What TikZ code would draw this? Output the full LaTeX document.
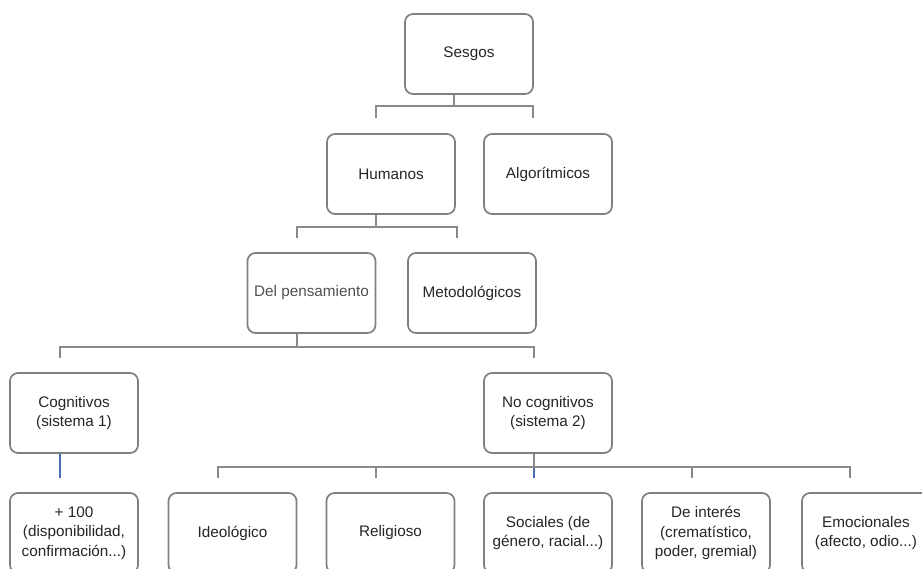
\documentclass[tikz,border=0pt]{standalone}
\usepackage{fontspec}
\setmainfont{Liberation Sans}
\usetikzlibrary{calc}
\definecolor{boxgray}{HTML}{808080}
\definecolor{linegray}{HTML}{8A8A8A}
\definecolor{txt}{HTML}{262626}
\definecolor{blueline}{HTML}{4A6DB5}
\tikzset{
  box/.style={draw=boxgray, line width=1.7pt, rounded corners=8pt, fill=white,
    minimum width=128pt, minimum height=80pt, align=center, text=txt,
    font=\fontsize{15.3}{19.5}\selectfont, inner sep=2pt},
  conn/.style={draw=linegray, line width=2pt},
  blueconn/.style={draw=blueline, line width=1.4pt}
}
\begin{document}
\begin{tikzpicture}[x=1pt,y=-1pt]
\clip (0,0) rectangle (922,569);
\fill[white] (0,0) rectangle (922,569);
% nodes
\node[box] (s) at (469,54) {Sesgos};
\node[box] (h) at (391,174) {Humanos};
\node[box] (a) at (548,174) {Algorítmicos};
\node[box, text=txt!80] (dp) at (311.5,293) {Del pensamiento};
\node[box] (m) at (472,293) {Metodológicos};
\node[box] (cog) at (74,413) {Cognitivos\\(sistema 1)};
\node[box] (nc) at (548,413) {No cognitivos\\(sistema 2)};
\node[box] (p) at (74,533) {+ 100\\(disponibilidad,\\confirmación...)};
\node[box] (ideo) at (232.5,533) {Ideológico};
\node[box] (reli) at (390.5,533) {Religioso};
\node[box] (soc) at (548,533) {Sociales (de\\género, racial...)};
\node[box] (int) at (706,533) {De interés\\(crematístico,\\poder, gremial)};
\node[box] (emo) at (866,533) {Emocionales\\(afecto, odio...)};
% level 1
\draw[conn] ([xshift=50pt]s.south west) -- ++(0,11) coordinate (j1);
\draw[conn] ([xshift=50pt,yshift=15pt]h.north west) -- ++(0,-12) -| ([xshift=50pt,yshift=15pt]a.north west);
% level 2
\draw[conn] ([xshift=50pt]h.south west) -- ++(0,12) coordinate (j2);
\draw[conn] ([xshift=50pt,yshift=14pt]dp.north west) -- ++(0,-11) -| ([xshift=50pt,yshift=14pt]m.north west);
% level 3
\draw[conn] ([xshift=50pt]dp.south west) -- ++(0,13) coordinate (j3);
\draw[conn] ([xshift=51pt,yshift=14pt]cog.north west) -- ++(0,-11) -| ([xshift=51pt,yshift=14pt]nc.north west);
% cognitivos
\draw[blueconn] ([xshift=51pt]cog.south west) -- ([xshift=51pt,yshift=14pt]p.north west);
% level 4
\draw[conn] ([xshift=51pt]nc.south west) -- ++(0,13) coordinate (j4);
\draw[conn] ([xshift=50pt,yshift=14pt]ideo.north west) -- ++(0,-11) -| ([xshift=49pt,yshift=14pt]emo.north west);
\draw[conn] ([xshift=50pt,yshift=14pt]reli.north west) -- ++(0,-11);
\draw[conn] ([xshift=51pt,yshift=14pt]int.north west) -- ++(0,-11);
\draw[blueconn] ([xshift=51pt,yshift=14pt]soc.north west) -- ++(0,-10);
\end{tikzpicture}
\end{document}
